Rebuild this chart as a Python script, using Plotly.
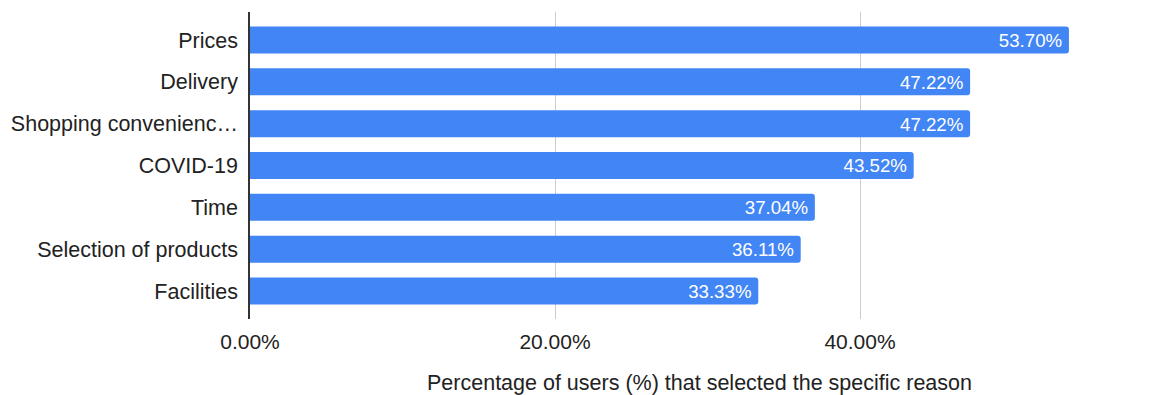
import plotly.graph_objects as go

categories = ["Prices", "Delivery", "Shopping convenience", "COVID-19", "Time",
              "Selection of products", "Facilities"]
tick_labels = ["Prices", "Delivery", "Shopping convenienc\u2026", "COVID-19", "Time",
               "Selection of products", "Facilities"]
values = [0.5370, 0.4722, 0.4722, 0.4352, 0.3704, 0.3611, 0.3333]
x_ticks = [0.0, 0.2, 0.4]
x_tick_labels = ["0.00%", "20.00%", "40.00%"]

FONT = "Liberation Sans, Arial, sans-serif"

fig = go.Figure(go.Bar(
    y=categories,
    x=values,
    orientation="h",
    marker=dict(color="#4285F4", cornerradius=3, line=dict(width=0)),
    texttemplate="%{x:.2%}\u2009",
    textposition="inside",
    insidetextanchor="end",
    insidetextfont=dict(color="white", size=20.5, family=FONT),
    hoverinfo="skip",
))

# page body adds an 8px margin, so the figure is 8px smaller on each axis
fig.update_layout(
    width=1142, height=387,
    margin=dict(l=242, r=1, t=4, b=76),
    paper_bgcolor="white", plot_bgcolor="white",
    font=dict(family=FONT, size=21, color="#222222"),
    bargap=0.355,
    showlegend=False,
)
fig.update_yaxes(
    categoryorder="array", categoryarray=categories,
    tickvals=categories, ticktext=tick_labels,
    range=[6.67, -0.67],
    showline=True, linecolor="#333333", linewidth=1.5,
    showgrid=False, ticks="", ticklabelstandoff=6,
    tickfont=dict(size=21.5, color="#222222"),
    automargin=False,
)
fig.update_xaxes(
    range=[0, 0.5895],
    tickvals=x_ticks, ticktext=x_tick_labels,
    showgrid=True, gridcolor="#cccccc", gridwidth=1,
    zeroline=False, showline=False, ticks="",
    tickfont=dict(size=21, color="#222222"),
    ticklabelstandoff=8,
    automargin=False,
    title=dict(text="Percentage of users (%) that selected the specific reason",
               font=dict(size=21.5, color="#222222"), standoff=24),
)

fig.write_html("out.html")
